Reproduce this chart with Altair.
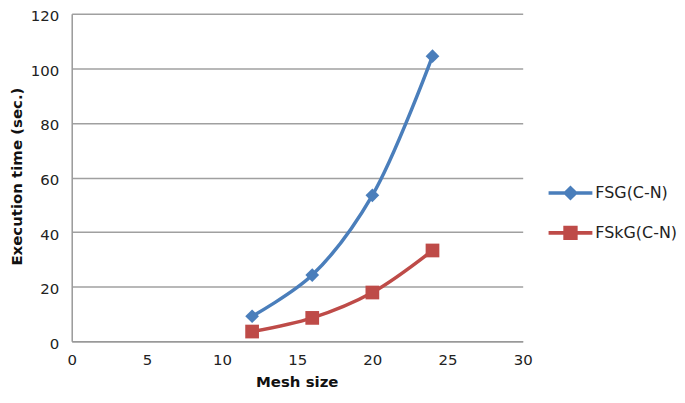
import altair as alt
import pandas as pd

mesh = [12, 16, 20, 24]
fsg = [9.2, 24.3, 53.5, 104.5]
fskg = [3.6, 8.6, 17.9, 33.3]
series = ["FSG(C-N)", "FSkG(C-N)"]
colors = ["#4a7ebb", "#be4b48"]
x_ticks = [0, 5, 10, 15, 20, 25, 30]
y_ticks = [0, 20, 40, 60, 80, 100, 120]

df = pd.DataFrame({
    "mesh": mesh * 2,
    "time": fsg + fskg,
    "series": [series[0]] * len(mesh) + [series[1]] * len(mesh),
})

legend_paths = [
    "M-1.1,-0.09L1.1,-0.09L1.1,0.09L-1.1,0.09Z M0,-0.38L0.38,0L0,0.38L-0.38,0Z",
    "M-1.1,-0.09L1.1,-0.09L1.1,0.09L-1.1,0.09Z M-0.36,-0.36L0.36,-0.36L0.36,0.36L-0.36,0.36Z",
]
legend_y = [160, 200]

x = alt.X(
    "mesh:Q",
    scale=alt.Scale(domain=[0, 30], nice=False, zero=False),
    axis=alt.Axis(
        values=x_ticks, title="Mesh size", grid=False, ticks=False,
        labelFlush=False, labelPadding=11, titleX=226, titleY=40,
        titleAlign="center", titleBaseline="middle",
    ),
)
y = alt.Y(
    "time:Q",
    scale=alt.Scale(domain=[0, 120], nice=False),
    axis=alt.Axis(
        values=y_ticks, title="Execution time (sec.)", grid=True, ticks=False,
        labelFlush=False, labelPadding=13, labelOffset=2, titleX=-55, titleY=163,
        titleAlign="center", titleBaseline="middle", titleAngle=-90,
    ),
)
color_scale = alt.Scale(domain=series, range=colors)

line = alt.Chart(df).mark_line(strokeWidth=3.5, interpolate="catmull-rom").encode(
    x=x, y=y, color=alt.Color("series:N", scale=color_scale, legend=None)
)
pts = alt.Chart(df).mark_point(filled=True, size=190, opacity=1).encode(
    x=x, y=y,
    color=alt.Color("series:N", scale=color_scale, legend=None),
    shape=alt.Shape("series:N", scale=alt.Scale(domain=series, range=["diamond", "square"]), legend=None),
)

legend_layers = []
for i, name in enumerate(series):
    legend_layers.append(
        alt.Chart(df).transform_filter(alt.datum.series == name)
        .mark_point(filled=True, size=1600, opacity=0)
        .encode(
            x=x, y=y,
            fill=alt.Fill(
                "series:N",
                scale=alt.Scale(domain=[name], range=[colors[i]]),
                legend=alt.Legend(
                    title=None, orient="none", legendX=481, legendY=legend_y[i],
                    padding=0, symbolType=legend_paths[i], symbolSize=1600,
                    symbolOpacity=1, symbolStrokeWidth=0, labelOffset=5,
                    labelFont="DejaVu Sans", labelFontSize=16,
                    labelColor="#222222", labelLimit=200,
                ),
            ),
        )
    )

chart = (
    alt.layer(line, pts, *legend_layers)
    .resolve_scale(fill="independent")
    .resolve_legend(fill="independent")
    .properties(
        width=453, height=329,
        autosize=alt.AutoSizeParams(type="none"),
        padding={"left": 64, "top": 5, "right": 155, "bottom": 50},
        background="white",
    )
    .configure_view(strokeWidth=0)
    .configure_axis(
        labelFont="DejaVu Sans", labelFontSize=15, labelColor="#222222",
        titleFont="DejaVu Sans", titleFontSize=15, titleFontWeight="bold",
        titleColor="#111111", domainColor="#999999", domainWidth=1.5,
        gridColor="#a0a0a0", gridWidth=1.5,
    )
)

chart.save("out.html", embed_options={"renderer": "svg", "actions": False})
